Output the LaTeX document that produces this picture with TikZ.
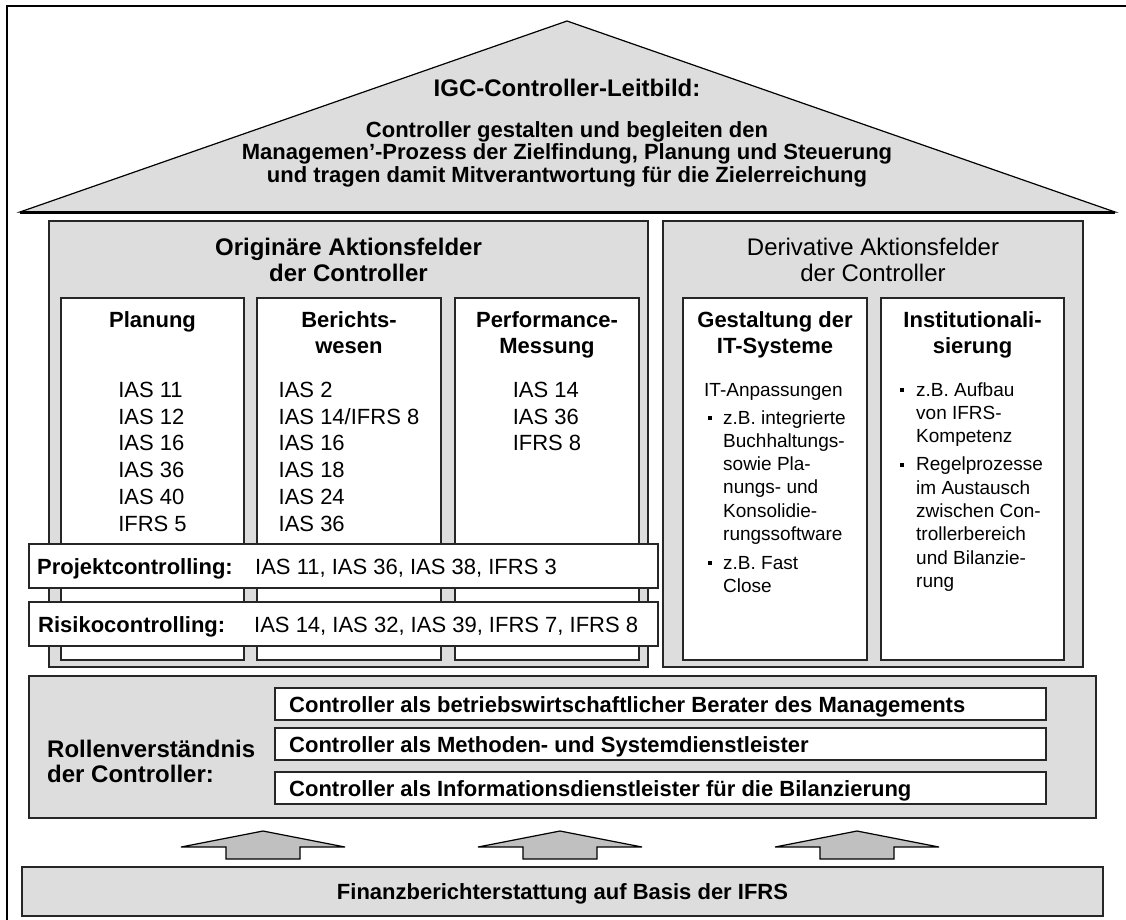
\documentclass[tikz,border=0pt]{standalone}
\usepackage{fontspec}
\setmainfont{Liberation Sans}
\usetikzlibrary{positioning}
\definecolor{hausgrau}{HTML}{DDDDDD}
\definecolor{pfeilgrau}{HTML}{C0C0C0}
\newcommand{\sqb}{\rule[0.22em]{4pt}{4pt}}

\begin{document}
\begin{tikzpicture}[x=1pt, y=-1pt,
    GB/.style={rectangle, draw=black!85, line width=1.6pt, fill=hausgrau,
      inner sep=0pt, outer sep=0pt},
    WB/.style={rectangle, draw=black!85, line width=1.6pt, fill=white,
      inner sep=0pt, outer sep=0pt},
    HT/.style={font=\fontsize{22}{26}\selectfont\bfseries, align=center, inner sep=0pt},
    LT/.style={font=\fontsize{22}{26.7}\selectfont, align=left, inner sep=0pt},
    RT/.style={font=\fontsize{19}{23.3}\selectfont, inner sep=0pt},
    TT/.style={font=\fontsize{24}{26}\selectfont, align=center, inner sep=0pt},
    arr/.style={draw=black, line width=1.2pt, fill=pfeilgrau, line join=miter}
  ]
    \useasboundingbox (0,0) rectangle (1126,919);
    \draw[line width=2pt] (7,940) -- (7,6) -- (1150,6);

    %% Dach mit Leitbild
    \coordinate (dl) at (20,212);
    \coordinate (dt) at (567,21);
    \coordinate (dr) at (1115,212);
    \draw[fill=hausgrau, line width=1.2pt] (dl) -- (dt) -- (dr) -- cycle;
    \draw[line width=3pt] (dl) -- (dr);
    \node[TT, font=\fontsize{24}{26}\selectfont\bfseries, anchor=north] (leit) at (567,79)
      {IGC-Controller-Leitbild:};
    \node[HT, font=\fontsize{22}{22.5}\selectfont\bfseries, anchor=north] (leitsatz) at (567,121)
      {Controller gestalten und begleiten den\\Managemen’-Prozess der Zielfindung, Planung und Steuerung\\und tragen damit Mitverantwortung für die Zielerreichung};

    %% Originaere Aktionsfelder (links)
    \node[GB, minimum width=599pt, minimum height=446pt] (orig) at (348.5,444) {};
    \node[TT, font=\fontsize{24}{26}\selectfont\bfseries, anchor=north] (origh) at ([yshift=-17pt]orig.north)
      {Originäre Aktionsfelder\\der Controller};
    \node[WB, minimum width=183pt, minimum height=362pt] (plan) at (152.5,479) {};
    \node[WB, minimum width=184pt, minimum height=362pt] (ber) at (349,479) {};
    \node[WB, minimum width=184pt, minimum height=362pt] (perf) at (547,479) {};
    \node[HT, anchor=north] (planh) at ([yshift=-13pt]plan.north) {Planung};
    \node[HT, anchor=north] (berh) at ([yshift=-13pt]ber.north) {Berichts-\\wesen};
    \node[HT, anchor=north] (perfh) at ([yshift=-13pt]perf.north) {Performance-\\Messung};
    \node[LT, anchor=north] (planl) at ([yshift=-84pt]plan.north)
      {IAS 11\\IAS 12\\IAS 16\\IAS 36\\IAS 40\\IFRS 5};
    \node[LT, anchor=north] (berl) at ([yshift=-84pt]ber.north)
      {IAS 2\\IAS 14/IFRS 8\\IAS 16\\IAS 18\\IAS 24\\IAS 36};
    \node[LT, anchor=north] (perfl) at ([yshift=-84pt]perf.north)
      {IAS 14\\IAS 36\\IFRS 8};

    %% Querschnittsfelder
    \node[WB, minimum width=629pt, minimum height=44pt] (proj) at (343.5,566) {};
    \node[WB, minimum width=629pt, minimum height=44pt] (risk) at (343.5,624) {};
    \node[LT, font=\fontsize{22}{26}\selectfont\bfseries, anchor=base west] (projh) at (37,574) {Projektcontrolling:};
    \node[LT, anchor=base west] (projl) at (255,574) {IAS 11, IAS 36, IAS 38, IFRS 3};
    \node[LT, font=\fontsize{22}{26}\selectfont\bfseries, anchor=base west] (riskh) at (38,632) {Risikocontrolling:};
    \node[LT, anchor=base west] (riskl) at (254,632) {IAS 14, IAS 32, IAS 39, IFRS 7, IFRS 8};

    %% Derivative Aktionsfelder (rechts)
    \node[GB, minimum width=420pt, minimum height=446pt] (deriv) at (873,444) {};
    \node[TT, anchor=north] (derivh) at ([yshift=-17pt]deriv.north)
      {Derivative Aktionsfelder\\der Controller};
    \node[WB, minimum width=184pt, minimum height=362pt] (gest) at (775,479) {};
    \node[WB, minimum width=183pt, minimum height=362pt] (inst) at (972.5,479) {};
    \node[HT, anchor=north] (gesth) at ([yshift=-13pt]gest.north) {Gestaltung der\\IT-Systeme};
    \node[HT, anchor=north] (insth) at ([yshift=-13pt]inst.north) {Institutionali-\\sierung};
    \node[RT, anchor=north west] (gestl) at (704,379.5)
      {\begin{tabular}{@{}l@{\hspace{11pt}}l@{}}
        \multicolumn{2}{@{}l@{}}{IT-Anpassungen}\\[4.7pt]
        \hspace{4pt}\sqb & z.B. integrierte\\
         & Buchhaltungs-\\
         & sowie Pla-\\
         & nungs- und\\
         & Konsolidie-\\
         & rungssoftware\\[5.5pt]
        \hspace{4pt}\sqb & z.B. Fast\\
         & Close
       \end{tabular}};
    \node[RT, anchor=north west] (instl) at (900,379.5)
      {\begin{tabular}{@{}l@{\hspace{12pt}}l@{}}
        \sqb & z.B. Aufbau\\
         & von IFRS-\\
         & Kompetenz\\[5pt]
        \sqb & Regelprozesse\\
         & im Austausch\\
         & zwischen Con-\\
         & trollerbereich\\
         & und Bilanzie-\\
         & rung
       \end{tabular}};

    %% Rollenverstaendnis
    \node[GB, minimum width=1067pt, minimum height=142pt] (rolle) at (562.5,747) {};
    \node[LT, font=\fontsize{24}{25}\selectfont\bfseries, anchor=north west] (rolleh) at (47,739.4)
      {Rollenverständnis\\der Controller:};
    \node[WB, minimum width=771pt, minimum height=32pt] (r1) at (660.5,704) {};
    \node[WB, minimum width=771pt, minimum height=32pt] (r2) at (660.5,744) {};
    \node[WB, minimum width=771pt, minimum height=32pt] (r3) at (660.5,788) {};
    \node[HT, anchor=base west] at (289,712) {Controller als betriebswirtschaftlicher Berater des Managements};
    \node[HT, anchor=base west] at (289,752) {Controller als Methoden- und Systemdienstleister};
    \node[HT, anchor=base west] at (289,796) {Controller als Informationsdienstleister für die Bilanzierung};

    %% Basis mit Pfeilen
    \node[GB, minimum width=1081pt, minimum height=49pt] (basis) at (562.5,891.5) {};
    \node[HT, anchor=base] (basish) at (562.5,899) {Finanzberichterstattung auf Basis der IFRS};
    \coordinate (p1) at (263,859);
    \coordinate (p2) at (560,859);
    \coordinate (p3) at (857,859);
    \draw[arr] (p1) ++(-37,0) -- ++(0,-12) -- ++(-45,0) -- ++(82,-16) -- ++(82,16) -- ++(-45,0) -- ++(0,12) -- cycle;
    \draw[arr] (p2) ++(-37,0) -- ++(0,-12) -- ++(-45,0) -- ++(82,-16) -- ++(82,16) -- ++(-45,0) -- ++(0,12) -- cycle;
    \draw[arr] (p3) ++(-37,0) -- ++(0,-12) -- ++(-45,0) -- ++(82,-16) -- ++(82,16) -- ++(-45,0) -- ++(0,12) -- cycle;
  \end{tikzpicture}
\end{document}
